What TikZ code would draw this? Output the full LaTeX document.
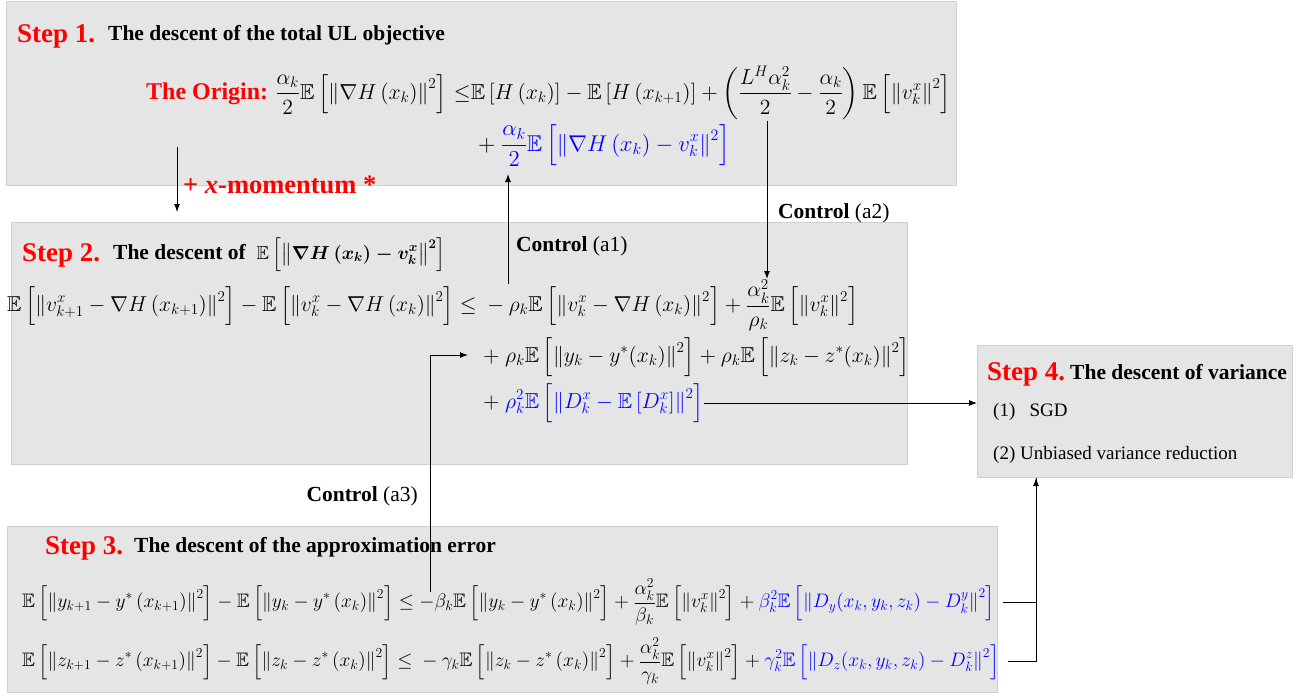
\documentclass[tikz,border=0pt]{standalone}
\usepackage{amsmath,amssymb}
% scalable math fonts at any size
\DeclareFontShape{OT1}{cmr}{m}{n}{<-> cmr12}{}
\DeclareFontShape{OT1}{cmr}{bx}{n}{<-> cmbx12}{}
\DeclareFontShape{OML}{cmm}{m}{it}{<-> cmmi12}{}
\DeclareFontShape{OML}{cmm}{b}{it}{<-> cmmib10}{}
\DeclareFontShape{OMS}{cmsy}{m}{n}{<-> cmsy10}{}
\DeclareFontShape{OMS}{cmsy}{b}{n}{<-> cmbsy10}{}
\DeclareFontFamily{U}{msb}{}
\DeclareFontShape{U}{msb}{m}{n}{<-> msbm10}{}
\usepackage[no-math]{fontspec}
\setmainfont{Liberation Serif}
\usepackage{xcolor}
\usetikzlibrary{arrows.meta,positioning}

\tikzset{
  stepbox/.style={draw=gray!38, line width=1.2pt, fill=gray!20, anchor=north west, inner sep=0pt},
  steplbl/.style={text=red, font=\fontsize{27}{30}\selectfont\bfseries, anchor=base west, inner sep=0pt},
  headlbl/.style={font=\fontsize{21.5}{25}\selectfont\bfseries, anchor=base west, inner sep=0pt},
  eqn/.style={font=\fontsize{21.7}{25}\selectfont, anchor=west, inner sep=0pt},
  ctrl/.style={font=\fontsize{21.5}{25}\selectfont, anchor=base west, inner sep=0pt},
  item/.style={font=\fontsize{19}{22}\selectfont, anchor=base west, inner sep=0pt},
  arr/.style={-{Latex[length=8pt,width=6pt]}, line width=1pt},
}

\begin{document}
\begin{tikzpicture}[x=1pt, y=-1pt]
\useasboundingbox (0,0) rectangle (1305,698);

% grey panels
\node[stepbox, minimum width=950pt, minimum height=184pt] (box1) at (6,1) {};
\node[stepbox, minimum width=896pt, minimum height=242pt] (box2) at (11,222) {};
\node[stepbox, minimum width=990pt, minimum height=166pt] (box3) at (7,526) {};
\node[stepbox, minimum width=315pt, minimum height=132pt] (box4) at (977,345) {};

% Step 1
\node[steplbl] (s1) at (17,43) {Step 1.};
\node[headlbl] (h1) at (108,41) {The descent of the total UL objective};
\node[eqn] (s1a) at (146,93) {{\color{red}\bfseries\fontsize{24}{28}\selectfont The Origin:}
  $\displaystyle \frac{\alpha_k}{2}\mathbb{E}\left[\left\|\nabla H\left(x_k\right)\right\|^2\right]\,{\leq}\mathbb{E}\left[H\left(x_k\right)\right]-\mathbb{E}\left[H\left(x_{k+1}\right)\right]+\left(\frac{L^H\alpha_k^2}{2}-\frac{\alpha_k}{2}\right)\mathbb{E}\left[\left\|v_k^x\right\|^2\right]$};
\node[eqn, font=\fontsize{22.8}{26}\selectfont] (s1b) at (478,146) {$\displaystyle +\ \color{blue}\frac{\alpha_k}{2}\mathbb{E}\left[\left\|\nabla H\left(x_k\right)-v_k^x\right\|^2\right]$};

% Step 2
\node[steplbl] (s2) at (22,261) {Step 2.};
\node[headlbl] (h2) at (113,259) {The descent of\ \ {\fontsize{18.8}{22}\selectfont\boldmath$\displaystyle\mathbb{E}\left[\left\|\nabla H\left(x_k\right)-v_k^x\right\|^2\right]$}};
\node[eqn, font=\fontsize{21.55}{25}\selectfont] (s2a) at (7,305) {$\displaystyle \mathbb{E}\left[\left\|v_{k+1}^x-\nabla H\left(x_{k+1}\right)\right\|^2\right]-\mathbb{E}\left[\left\|v_k^x-\nabla H\left(x_k\right)\right\|^2\right]\leq{}-{}\rho_k\mathbb{E}\left[\left\|v_k^x-\nabla H\left(x_k\right)\right\|^2\right]+\frac{\alpha_k^2}{\rho_k}\mathbb{E}\left[\left\|v_k^x\right\|^2\right]$};
\node[eqn, font=\fontsize{21.65}{25}\selectfont] (s2b) at (483,357) {$\displaystyle +\ \rho_k\mathbb{E}\left[\left\|y_k-y^*(x_k)\right\|^2\right]+\rho_k\mathbb{E}\left[\left\|z_k-z^*(x_k)\right\|^2\right]$};
\node[eqn] (s2c) at (483,403) {$\displaystyle +\ \color{blue}\rho_k^2\mathbb{E}\left[\left\|D_k^x-\mathbb{E}\left[D_k^x\right]\right\|^2\right]$};

% Step 3
\node[steplbl] (s3) at (45,554) {Step 3.};
\node[headlbl] (h3) at (134,552) {The descent of the approximation error};
\node[eqn, font=\fontsize{19.5}{23}\selectfont] (s3a) at (22,602) {$\displaystyle \mathbb{E}\left[\left\|y_{k+1}-y^*\left(x_{k+1}\right)\right\|^2\right]-\mathbb{E}\left[\left\|y_k-y^*\left(x_k\right)\right\|^2\right]\leq-\beta_k\mathbb{E}\left[\left\|y_k-y^*\left(x_k\right)\right\|^2\right]+\frac{\alpha_k^2}{\beta_k}\mathbb{E}\left[\left\|v_k^x\right\|^2\right]+{\color{blue}\beta_k^2\mathbb{E}\left[\left\|D_y(x_k,y_k,z_k)-D_k^y\right\|^2\right]}$};
\node[eqn, font=\fontsize{19.5}{23}\selectfont] (s3b) at (22,661) {$\displaystyle \mathbb{E}\left[\left\|z_{k+1}-z^*\left(x_{k+1}\right)\right\|^2\right]-\mathbb{E}\left[\left\|z_k-z^*\left(x_k\right)\right\|^2\right]\leq{}-{}\gamma_k\mathbb{E}\left[\left\|z_k-z^*\left(x_k\right)\right\|^2\right]+\frac{\alpha_k^2}{\gamma_k}\mathbb{E}\left[\left\|v_k^x\right\|^2\right]+{\color{blue}\gamma_k^2\mathbb{E}\left[\left\|D_z(x_k,y_k,z_k)-D_k^z\right\|^2\right]}$};

% Step 4
\node[steplbl] (s4) at (987,380) {Step 4.};
\node[headlbl] (h4) at (1070,379) {The descent of variance};
\node[item] (i1) at (993,416) {(1)\ \ \ SGD};
\node[item] (i2) at (993,459) {(2) Unbiased variance reduction};

% connectors
\coordinate (m1) at (177,147);
\coordinate (m2) at (177,212);
\draw[arr] (m1) -- (m2);
\node[anchor=base west, inner sep=0pt, text=red, font=\fontsize{26.5}{29}\selectfont\bfseries] (mom) at (183,193) {+ \textit{x}-momentum *};

\coordinate (a1s) at (508,284);
\coordinate (a1e) at (508,174);
\draw[arr] (a1s) -- (a1e);
\node[ctrl] (c1) at (516,251) {\textbf{Control} (a1)};

\coordinate (a2s) at (767,121);
\coordinate (a2e) at (767,279);
\draw[arr] (a2s) -- (a2e);
\node[ctrl] (c2) at (778,218) {\textbf{Control} (a2)};

\coordinate (a3s) at (430,592);
\coordinate (a3e) at (468,355);
\draw[arr] (a3s) |- (a3e);
\node[ctrl, anchor=base east] (c3) at (418,501) {\textbf{Control} (a3)};

\draw[arr] (s2c.east) -- (box4.west |- s2c.east);

\coordinate (v4) at (1036,478);
\draw[line width=1pt] ([xshift=8pt]s3a.east) -| (v4);
\draw[arr] ([xshift=8pt]s3b.east) -| (v4);
\end{tikzpicture}
\end{document}
